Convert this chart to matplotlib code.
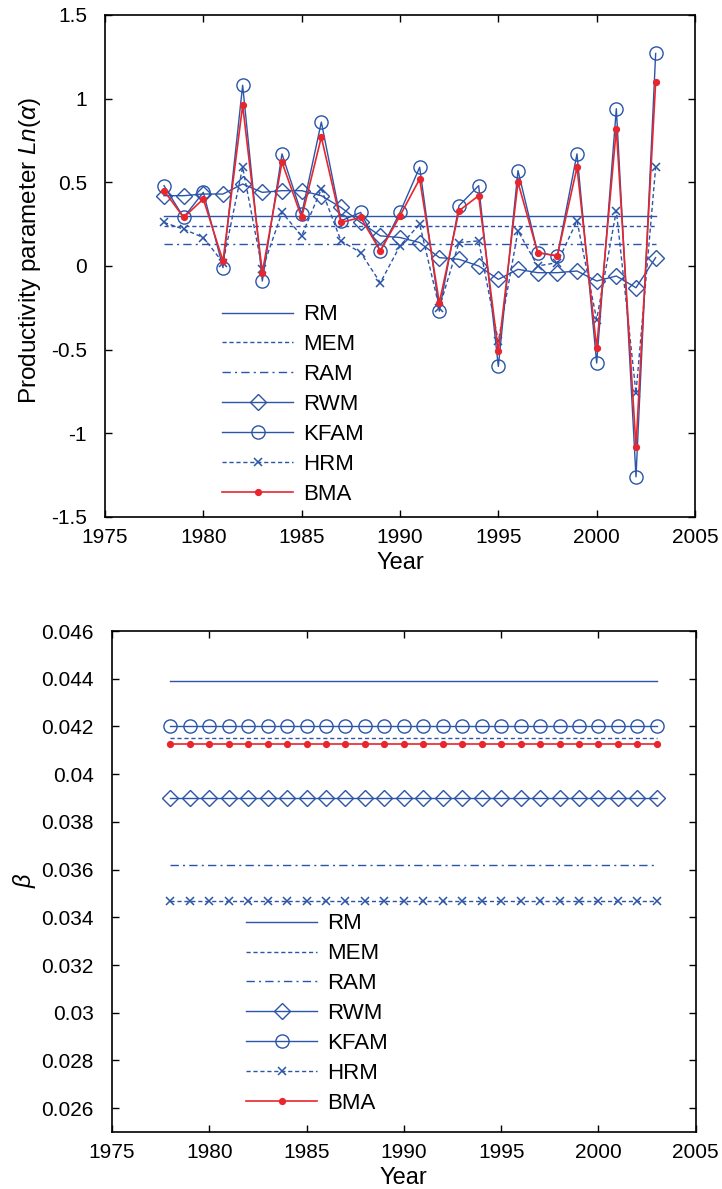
import numpy as np
import matplotlib
matplotlib.use("Agg")
import matplotlib.pyplot as plt
from matplotlib.ticker import FormatStrFormatter

plt.rcParams['font.family'] = ['Liberation Sans', 'DejaVu Sans']
plt.rcParams['mathtext.fontset'] = 'custom'
plt.rcParams['mathtext.it'] = 'Liberation Sans:italic'
plt.rcParams['mathtext.rm'] = 'Liberation Sans'

years = np.arange(1978, 2004)

# productivity parameter Ln(alpha)
rm_alpha = 0.30
mem_alpha = 0.24
ram_alpha = 0.13
rwm_alpha = [0.42, 0.42, 0.43, 0.43, 0.49, 0.44, 0.45, 0.45, 0.42, 0.35,
             0.26, 0.18, 0.17, 0.14, 0.05, 0.04, 0.00, -0.08, -0.02, -0.04,
             -0.04, -0.03, -0.09, -0.06, -0.13, 0.05]
kfam_alpha = [0.48, 0.29, 0.44, -0.01, 1.08, -0.09, 0.67, 0.31, 0.86, 0.27,
              0.32, 0.09, 0.32, 0.59, -0.27, 0.36, 0.48, -0.60, 0.57, 0.08,
              0.06, 0.67, -0.58, 0.94, -1.26, 1.27]
hrm_alpha = [0.26, 0.22, 0.17, 0.02, 0.59, -0.02, 0.32, 0.18, 0.46, 0.15,
             0.08, -0.10, 0.12, 0.25, -0.25, 0.14, 0.15, -0.45, 0.21, 0.00,
             0.02, 0.27, -0.32, 0.33, -0.76, 0.59]
bma_alpha = [0.45, 0.29, 0.40, 0.03, 0.96, -0.04, 0.62, 0.29, 0.77, 0.26,
             0.29, 0.09, 0.30, 0.52, -0.22, 0.33, 0.42, -0.51, 0.50, 0.08,
             0.06, 0.59, -0.49, 0.82, -1.08, 1.10]

# beta (constant over years)
rm_beta = 0.0439
mem_beta = 0.04152
ram_beta = 0.03621
rwm_beta = 0.0390
kfam_beta = 0.0420
hrm_beta = 0.03469
bma_beta = 0.04127

labels = ["RM", "MEM", "RAM", "RWM", "KFAM", "HRM", "BMA"]

blue = '#2b55a8'
red = '#e8262e'
lw = 1.0


def draw(ax, rm, mem, ram, rwm, kfam, hrm, bma):
    n = len(years)
    ax.plot(years, np.full(n, rm), '-', color=blue, lw=lw, label=labels[0])
    ax.plot(years, np.full(n, mem), '--', color=blue, lw=lw, dashes=(3, 2), label=labels[1])
    ax.plot(years, np.full(n, ram), '-.', color=blue, lw=lw, dashes=(6, 3, 1.5, 3), label=labels[2])
    ax.plot(years, np.broadcast_to(rwm, n), '-', color=blue, lw=lw, marker='D', ms=8.5,
            mfc='none', mec=blue, mew=1.0, label=labels[3])
    ax.plot(years, np.broadcast_to(kfam, n), '-', color=blue, lw=lw, marker='o', ms=9.5,
            mfc='none', mec=blue, mew=1.0, label=labels[4])
    ax.plot(years, np.broadcast_to(hrm, n), '--', color=blue, lw=lw, dashes=(3, 2), marker='x', ms=6,
            mew=1.1, label=labels[5])
    ax.plot(years, np.broadcast_to(bma, n), '-', color=red, lw=1.2, marker='o', ms=4.2,
            mfc=red, mec=red, label=labels[6])


def style(ax):
    ax.set_xlim(1975, 2005)
    ax.set_xticks(np.arange(1975, 2006, 5))
    ax.tick_params(direction='in', top=True, right=True, labelsize=15, length=5, width=1)
    ax.tick_params(axis='x', pad=8)
    ax.tick_params(axis='y', pad=13)
    for s in ax.spines.values():
        s.set_linewidth(1.2)
    ax.set_xlabel("Year", fontsize=17)
    ax.xaxis.set_label_coords(0.5, -0.092, transform=ax.transAxes)
    ax.xaxis.label.set_va('center')


fig = plt.figure(figsize=(7.22, 11.89), dpi=100)

ax1 = fig.add_axes([0.1454, 0.5652, 0.8172, 0.4222])
draw(ax1, rm_alpha, mem_alpha, ram_alpha, rwm_alpha, kfam_alpha, hrm_alpha, bma_alpha)
style(ax1)
ax1.set_ylim(-1.5, 1.5)
ax1.set_yticks(np.arange(-1.5, 1.51, 0.5))
ax1.yaxis.set_major_formatter(FormatStrFormatter('%g'))
ax1.set_ylabel(r"Productivity parameter $Ln(\alpha)$", fontsize=17.5, va='center')
ax1.yaxis.set_label_coords(-0.127, 0.53)
ax1.legend(loc='upper left', bbox_to_anchor=(0.3075, 0.7440), bbox_transform=fig.transFigure,
           frameon=False, fontsize=16, handlelength=3.2, handletextpad=0.45,
           labelspacing=0.4, borderpad=0, borderaxespad=0)

ax2 = fig.add_axes([0.1551, 0.0479, 0.8085, 0.4214])
draw(ax2, rm_beta, mem_beta, ram_beta, rwm_beta, kfam_beta, hrm_beta, bma_beta)
style(ax2)
ax2.set_ylim(0.025, 0.046)
ax2.set_yticks(np.arange(0.026, 0.0461, 0.002))
ax2.yaxis.set_major_formatter(FormatStrFormatter('%g'))
ax2.set_ylabel(r"$\beta$", fontsize=17, va='center')
ax2.yaxis.set_label_coords(-0.15, 0.503)
ax2.legend(loc='upper left', bbox_to_anchor=(0.3407, 0.2318), bbox_transform=fig.transFigure,
           frameon=False, fontsize=16, handlelength=3.2, handletextpad=0.45,
           labelspacing=0.4, borderpad=0, borderaxespad=0)

fig.savefig("out.png", dpi=100)
